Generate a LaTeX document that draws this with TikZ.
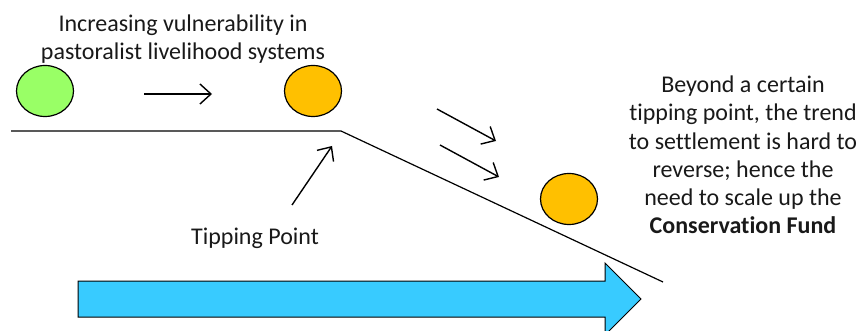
\documentclass[tikz,border=0pt]{standalone}
\usepackage{fontspec}
\setmainfont{Carlito}[Ligatures={NoCommon}]
\usetikzlibrary{arrows.meta,shapes.geometric}
\definecolor{ballgreen}{HTML}{99FF66}
\definecolor{ballorange}{HTML}{FFC000}
\definecolor{trendblue}{HTML}{38CBFF}
\tikzset{
  ball/.style={ellipse, draw, line width=1.2pt, minimum width=57pt, minimum height=51pt, inner sep=0pt},
  move/.style={line width=1.4pt, -{Straight Barb[length=11pt,width=20pt,line width=1.4pt]}},
  caption/.style={font=\fontsize{24}{28.2}\selectfont, align=center, text=black!90}
}
\begin{document}
\begin{tikzpicture}[x=1pt,y=-1pt]
	\useasboundingbox (0,0) rectangle (862,331);
	% trend arrow
	\draw[line width=1pt, fill=trendblue] (78,281) -- (605,281) -- (605,263) -- (641,299) -- (605,335) -- (605,317) -- (78,317) -- cycle;
	% ground
	\coordinate (left) at (11,131);
	\coordinate (tip) at (341,131);
	\coordinate (right) at (663,282);
	\draw[line width=1.2pt] (left) -- (tip) -- (right);
	% balls
	\node[ball, fill=ballgreen] (start) at (45,91) {};
	\node[ball, fill=ballorange] (edge) at (313,91) {};
	\node[ball, fill=ballorange] (fallen) at (569,199) {};
	% moves
	\coordinate (m1) at (144,94);
	\coordinate (m2) at (212,94);
	\coordinate (d1) at (437,109);
	\coordinate (d2) at (496,141);
	\coordinate (e1) at (440,145);
	\coordinate (e2) at (499,177);
	\draw[move] (m1) -- (m2);
	\draw[move] (d1) -- (d2);
	\draw[move] (e1) -- (e2);
	% labels
	\node[caption] (vuln) at (183,39) {Increasing vulnerability in\\pastoralist livelihood systems};
	\node[caption] (tiplabel) at (255,238) {Tipping Point};
	\coordinate (t1) at (292,205);
	\draw[move] (t1) -- (332,146);
	\node[caption] (beyond) at (743,155) {Beyond a certain\\tipping point, the trend\\to settlement is hard to\\reverse; hence the\\need to scale up the\\\textbf{Conservation Fund}};
\end{tikzpicture}
\end{document}
